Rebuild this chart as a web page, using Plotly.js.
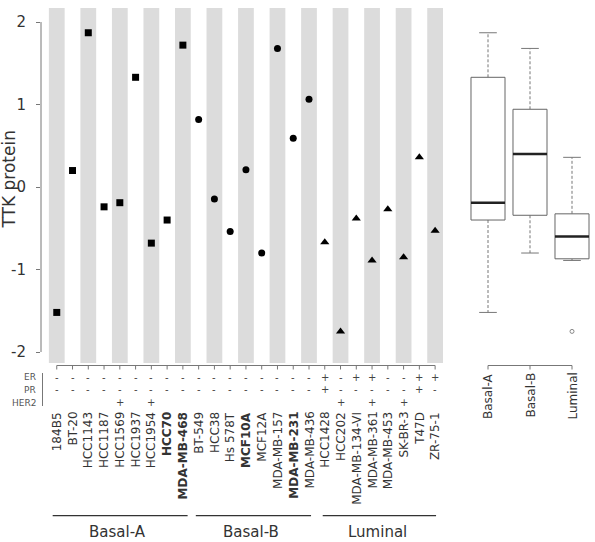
<!DOCTYPE html>
<html><head><meta charset="utf-8">
<script src="https://cdn.plot.ly/plotly-3.0.1.min.js"></script>
<style>html,body{margin:0;padding:0;background:#fff;} #chart{width:595px;height:542px;}</style>
</head><body><div id="chart"></div>
<script>
// ---------------- data ----------------
const cellLines = ["184B5","BT-20","HCC1143","HCC1187","HCC1569","HCC1937","HCC1954","HCC70","MDA-MB-468",
  "BT-549","HCC38","Hs 578T","MCF10A","MCF12A","MDA-MB-157","MDA-MB-231","MDA-MB-436",
  "HCC1428","HCC202","MDA-MB-134-VI","MDA-MB-361","MDA-MB-453","SK-BR-3","T47D","ZR-75-1"];
const boldLines = ["HCC70","MDA-MB-468","MCF10A","MDA-MB-231"];
const subtype = ["Basal-A","Basal-A","Basal-A","Basal-A","Basal-A","Basal-A","Basal-A","Basal-A","Basal-A",
  "Basal-B","Basal-B","Basal-B","Basal-B","Basal-B","Basal-B","Basal-B","Basal-B",
  "Luminal","Luminal","Luminal","Luminal","Luminal","Luminal","Luminal","Luminal"];
const ttkProtein = [-1.52,0.20,1.87,-0.24,-0.19,1.33,-0.68,-0.40,1.72,
  0.82,-0.145,-0.54,0.21,-0.80,1.68,0.59,1.065,
  -0.67,-1.75,-0.38,-0.89,-0.27,-0.85,0.36,-0.53];
const erStatus   = ["-","-","-","-","-","-","-","-","-", "-","-","-","-","-","-","-","-", "+","-","+","+","-","-","+","+"];
const prStatus   = ["-","-","-","-","-","-","-","-","-", "-","-","-","-","-","-","-","-", "+","-","-","-","-","-","+","-"];
const her2Status = ["","","","","+","","+","","", "","","","","","","","", "","+","","+","","+","",""];
const groups = ["Basal-A","Basal-B","Luminal"];
const groupSymbols = ["square","circle","triangle-up"];

// ---------------- layout helpers ----------------
const W = 595, H = 542, ML = 41, MR = 2, MT = 8, MB = 179;
const PW = W - ML - MR, PH = H - MT - MB;
const px2py = p => (H - MB - p) / PH;     // pixel y -> paper y
const px2px = p => (p - ML) / PW;         // pixel x -> paper x
const txt = "#333", axc = "#777";
const FONT = "DejaVu Sans, Verdana, sans-serif";
const groupLinePad = [[0.26,0.3],[0.18,0.13],[0.13,0.06]];

const cols = cellLines.map((_, i) => i + 1);
const traces = [];
const shapes = [];
const annotations = [];

// alternating stripes
cols.forEach(c => {
  if (c % 2 === 1) shapes.push({type:"rect", xref:"x", yref:"paper", x0:c-0.5, x1:c+0.5, y0:0, y1:1,
    fillcolor:"#dcdcdc", line:{width:0}, layer:"below"});
});

// points per group
groups.forEach((g, gi) => {
  const xs = [], ys = [];
  subtype.forEach((s, i) => { if (s === g) { xs.push(cols[i]); ys.push(ttkProtein[i]); } });
  traces.push({type:"scatter", mode:"markers", x:xs, y:ys, xaxis:"x", yaxis:"y",
    marker:{symbol:groupSymbols[gi], color:"#000", size: gi===0?7:(gi===1?7:8), line:{width:0}},
    hoverinfo:"skip", showlegend:false});
});

// y axis line
shapes.push({type:"line", xref:"paper", yref:"y", x0:0, x1:0, y0:-2, y1:2, line:{color:axc, width:1}});
// x axis line + ticks
shapes.push({type:"line", xref:"x", yref:"paper", x0:1, x1:cols.length, y0:px2py(365.5), y1:px2py(365.5), line:{color:axc, width:1}});
cols.forEach(c => shapes.push({type:"line", xref:"x", yref:"paper", x0:c, x1:c, y0:px2py(365.5), y1:px2py(369.5), line:{color:axc, width:1}}));

// receptor rows
const rows = [["ER", erStatus, 377], ["PR", prStatus, 390], ["HER2", her2Status, 402.5]];
rows.forEach(([lab, arr, yp]) => {
  annotations.push({xref:"paper", yref:"paper", x:px2px(38), y:px2py(yp), xanchor:"right", yanchor:"middle",
    text:lab, showarrow:false, font:{family:FONT, size:9, color:"#555"}});
  arr.forEach((s, i) => { if (s) annotations.push({xref:"x", yref:"paper", x:cols[i], y:px2py(yp), xanchor:"center", yanchor:"middle",
    text:s, showarrow:false, font:{family:FONT, size:10, color:"#444"}}); });
});
shapes.push({type:"line", xref:"paper", yref:"paper", x0:px2px(42.5), x1:px2px(42.5), y0:px2py(373), y1:px2py(406), line:{color:axc, width:1}});

// cell line labels
cellLines.forEach((n, i) => {
  annotations.push({xref:"x", yref:"paper", x:cols[i], y:px2py(411), xanchor:"center", yanchor:"top", textangle:-90,
    text: boldLines.includes(n) ? "<b>"+n+"</b>" : n, showarrow:false, borderpad:0,
    font:{family:FONT, size:12, color:txt}});
});

// group lines and labels
groups.forEach((g, gi) => {
  const idx = cols.filter((c, i) => subtype[i] === g);
  const first = Math.min(...idx), last = Math.max(...idx);
  shapes.push({type:"line", xref:"x", yref:"paper", x0:first-groupLinePad[gi][0], x1:last+groupLinePad[gi][1],
    y0:px2py(515.7), y1:px2py(515.7), line:{color:txt, width:1.3}});
  annotations.push({xref:"x", yref:"paper", x:(first+last)/2 - 0.15, y:px2py(531.5), xanchor:"center", yanchor:"middle",
    text:g, showarrow:false, font:{family:FONT, size:15, color:txt}});
});

// y title
annotations.push({xref:"paper", yref:"paper", x:px2px(8.5), y:px2py(180), xanchor:"center", yanchor:"middle", textangle:-90,
  text:"TTK protein", showarrow:false, borderpad:0, font:{family:FONT, size:17, color:txt}});

// ---------------- boxplot (Tukey fivenum, R style) ----------------
function fivenum(v){
  const a = v.slice().sort((p,q)=>p-q), n=a.length;
  const n4 = Math.floor((n+3)/2)/2;
  const d = [1, n4, (n+1)/2, n+1-n4, n];
  return d.map(x => 0.5*(a[Math.floor(x)-1] + a[Math.ceil(x)-1]));
}
const bw = 0.405, cw = 0.21;
groups.forEach((g, gi) => {
  const vals = ttkProtein.filter((v, i) => subtype[i] === g);
  const f = fivenum(vals);
  const q1=f[1], med=f[2], q3=f[3], iqr=q3-q1;
  const inside = vals.filter(v => v >= q1-1.5*iqr && v <= q3+1.5*iqr);
  const lo = Math.min(...inside), hi = Math.max(...inside);
  const outl = vals.filter(v => v < q1-1.5*iqr || v > q3+1.5*iqr);
  const c = gi;
  const common = {type:"scatter", mode:"lines", xaxis:"x2", yaxis:"y", hoverinfo:"skip", showlegend:false};
  traces.push(Object.assign({}, common, {x:[c,c,null,c,c], y:[q3,hi,null,q1,lo], line:{color:axc, width:1, dash:"3px,2px"}}));
  traces.push(Object.assign({}, common, {x:[c-cw,c+cw,null,c-cw,c+cw], y:[hi,hi,null,lo,lo], line:{color:axc, width:1}}));
  traces.push(Object.assign({}, common, {x:[c-bw,c+bw,c+bw,c-bw,c-bw], y:[q1,q1,q3,q3,q1], fill:"toself", fillcolor:"#fff", line:{color:"#666", width:1}}));
  traces.push(Object.assign({}, common, {x:[c-bw,c+bw], y:[med,med], line:{color:"#222", width:2.5}}));
  if (outl.length) traces.push({type:"scatter", mode:"markers", xaxis:"x2", yaxis:"y", x:outl.map(()=>c), y:outl,
    marker:{symbol:"circle-open", size:4, color:"#888", line:{width:1}}, hoverinfo:"skip", showlegend:false});
  shapes.push({type:"line", xref:"x2", yref:"paper", x0:c, x1:c, y0:px2py(365.5), y1:px2py(369.5), line:{color:axc, width:1}});
  annotations.push({xref:"x2", yref:"paper", x:c, y:px2py(372), xanchor:"center", yanchor:"top", textangle:-90,
    text:g, showarrow:false, borderpad:0, font:{family:FONT, size:12, color:txt}});
});
shapes.push({type:"line", xref:"x2", yref:"paper", x0:0, x1:groups.length-1, y0:px2py(365.5), y1:px2py(365.5), line:{color:axc, width:1}});

const layout = {
  width:W, height:H, margin:{l:ML, r:MR, t:MT, b:MB, pad:0},
  paper_bgcolor:"#fff", plot_bgcolor:"rgba(0,0,0,0)",
  showlegend:false,
  xaxis:{domain:[0, 402/PW], range:[0, cols.length+0.5], showgrid:false, zeroline:false, showline:false,
    showticklabels:false, ticks:"", fixedrange:true},
  xaxis2:{domain:[426/PW, 1], range:[-0.5, groups.length-0.5], anchor:"y", showgrid:false, zeroline:false, showline:false,
    showticklabels:false, ticks:"", fixedrange:true},
  yaxis:{range:[-2.133, 2.17], tickvals:[-2,-1,0,1,2], ticktext:["-2","-1","0","1","2"], ticks:"outside", ticklen:4,
    tickcolor:axc, tickwidth:1, showgrid:false, zeroline:false, showline:false, ticklabelstandoff:7,
    tickfont:{family:FONT, size:15, color:txt}, fixedrange:true},
  shapes:shapes, annotations:annotations
};
Plotly.newPlot("chart", traces, layout, {staticPlot:true, displayModeBar:false});
</script>
</body></html>
